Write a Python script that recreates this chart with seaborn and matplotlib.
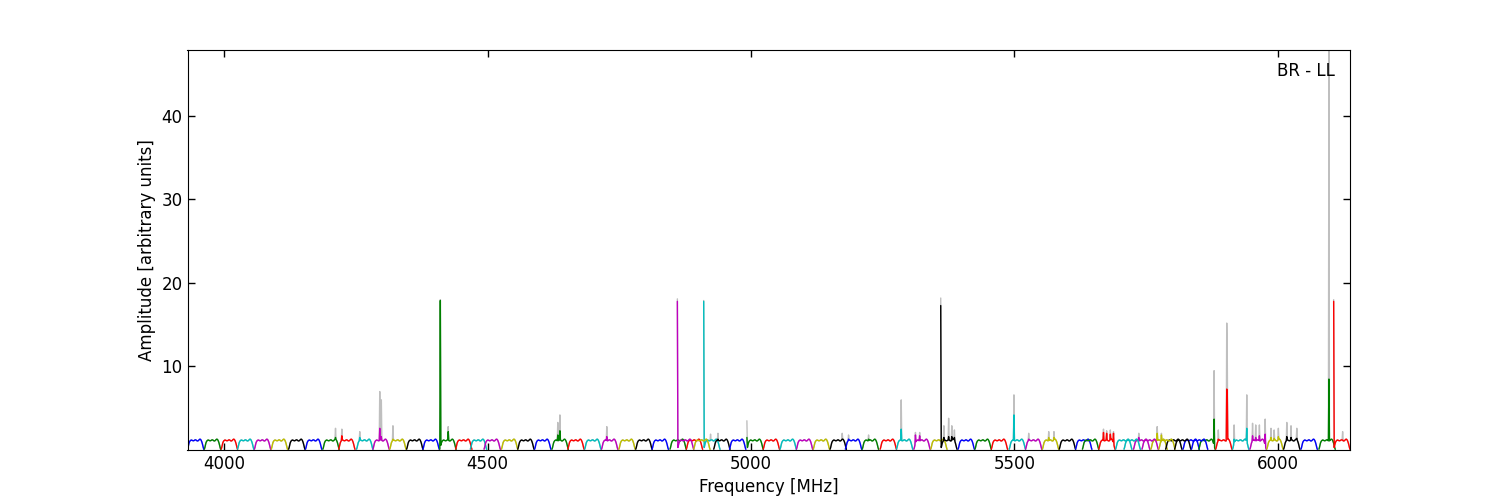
import numpy as np
import pandas as pd
import matplotlib
matplotlib.use('Agg')
import matplotlib.pyplot as plt
import seaborn as sns

# start frequency (MHz) of each spectral window, in plotting order
window_starts = [
    3930, 3962, 3994, 4025, 4057, 4089, 4122, 4154, 4187, 4217,
    4251, 4282, 4314, 4346, 4377, 4409, 4439, 4467, 4493, 4526,
    4557, 4589, 4622, 4652, 4684, 4716, 4749, 4781, 4812, 4846,
    4877, 4910, 4860, 4891, 4929, 4959, 4992, 5023, 5055, 5086,
    5118, 5150, 5179, 5211, 5245, 5276, 5309, 5341, 5360, 5393,
    5425, 5456, 5490, 5521, 5553, 5585, 5616, 5629, 5660, 5692,
    5726, 5759, 5787, 5820, 5850, 5882, 5914, 5947, 5979, 6011,
    6044, 6078, 6106, 5708, 5742, 5774, 5804, 5836,
]

# bandpass shape of one window (32 channels)
bandpass = [
    0.10, 0.30, 0.58, 0.85, 1.00, 1.10, 1.15, 1.20, 1.18, 1.15,
    1.12, 1.10, 1.12, 1.15, 1.20, 1.22, 1.20, 1.15, 1.10, 1.08,
    1.10, 1.15, 1.22, 1.28, 1.30, 1.25, 1.15, 1.00, 0.80, 0.55,
    0.28, 0.08,
]

# spikes: frequency (MHz), raw amplitude (grey), flagged amplitude (colour)
spike_freq = [
    4210.8, 4223.5, 4257.0, 4295.0, 4298.0, 4320.4, 4410.0, 4424.9,
    4633.0, 4636.9, 4725.5, 4860.5, 4910.5, 4923.0, 4937.0, 4992.5,
    5173.0, 5185.0, 5223.0, 5285.2, 5312.0, 5320.0, 5360.5, 5366.0,
    5375.0, 5381.0, 5386.0, 5499.0, 5527.0, 5565.0, 5575.0, 5669.0,
    5675.0, 5682.0, 5688.0, 5736.0, 5771.0, 5779.0, 5879.0, 5886.6,
    5903.0, 5904.0, 5917.0, 5941.0, 5951.9, 5958.0, 5964.5, 5976.0,
    5987.0, 5993.0, 6000.5, 6017.0, 6024.6, 6036.0, 6097.4, 6106.5,
    6123.0,
]
spike_raw = [
    2.6, 2.5, 2.2, 7.0, 6.0, 2.9, 18.0, 2.8,
    3.3, 4.2, 2.8, 18.1, 17.9, 1.9, 2.0, 3.5,
    2.0, 1.8, 1.8, 6.0, 2.1, 2.1, 18.2, 2.9,
    3.8, 2.9, 2.4, 6.6, 2.0, 2.2, 2.2, 2.5,
    2.3, 2.4, 2.2, 2.0, 2.8, 2.0, 9.5, 2.4,
    15.2, 11.1, 3.0, 6.6, 3.2, 3.0, 3.0, 3.7,
    2.6, 2.4, 2.6, 3.3, 2.9, 2.6, 47.9, 18.0,
    2.2,
]
spike_flagged = [
    1.5, 1.7, 1.5, 2.6, 1.6, 1.3, 17.9, 2.2,
    1.8, 2.3, 1.6, 17.8, 17.8, 1.2, 1.3, 1.5,
    1.3, 1.3, 1.3, 2.5, 1.8, 1.7, 17.3, 1.5,
    1.6, 1.6, 1.5, 4.2, 1.3, 1.5, 1.5, 2.1,
    2.0, 1.9, 2.0, 1.5, 2.0, 1.8, 3.7, 1.3,
    7.3, 6.9, 1.3, 2.6, 1.7, 1.5, 1.7, 1.9,
    1.5, 1.4, 1.6, 1.6, 1.5, 1.4, 8.5, 17.8,
    1.2,
]

chan_width = 1.0
starts = np.array(window_starts, dtype=float)
rows = []
for w, s in enumerate(starts):
    freq = s + np.arange(len(bandpass)) * chan_width
    raw = np.array(bandpass, dtype=float)
    flagged = raw.copy()
    for f, r, g in zip(spike_freq, spike_raw, spike_flagged):
        # a spike belongs to the latest window starting below it
        owner = np.argmax(np.where(starts <= f, starts, -np.inf))
        if owner != w:
            continue
        ch = int(round((f - s) / chan_width))
        if 0 <= ch < len(bandpass):
            raw[ch] = r
            flagged[ch] = g
    for fr, r, g in zip(freq, raw, flagged):
        rows.append((w, fr, r, g))
spec = pd.DataFrame(rows, columns=['window', 'freq', 'raw', 'flagged'])

sns.set_style('ticks', {'xtick.direction': 'in', 'ytick.direction': 'in',
                        'axes.edgecolor': 'black', 'text.color': 'black',
                        'axes.labelcolor': 'black',
                        'xtick.color': 'black', 'ytick.color': 'black'})
plt.rcParams['font.family'] = ['DejaVu Sans']
plt.rcParams['xtick.top'] = True
plt.rcParams['ytick.right'] = True

cycle = ['b', 'g', 'r', 'c', 'm', 'y', 'k']
palette = {w: cycle[w % 7] for w in range(len(starts))}

fig, ax = plt.subplots(figsize=(15, 5), dpi=100)
fig.subplots_adjust(left=0.125, right=0.9, bottom=0.1, top=0.9)
sns.lineplot(data=spec, x='freq', y='raw', units='window', estimator=None,
             color='#bfbfbf', lw=1, ax=ax)
sns.lineplot(data=spec, x='freq', y='flagged', hue='window', palette=palette,
             hue_order=list(range(len(starts))), estimator=None, lw=1,
             legend=False, ax=ax)

ax.set_xlim(spec['freq'].min(), spec['freq'].max())
ax.set_ylim(0, spec['raw'].max())
ax.set_xticks([4000, 4500, 5000, 5500, 6000])
ax.set_yticks([10, 20, 30, 40])
ax.tick_params(labelsize=12, length=5, width=1, colors='black')
ax.set_xlabel('Frequency [MHz]', fontsize=12, color='black')
ax.set_ylabel('Amplitude [arbitrary units]', fontsize=12, color='black')
ax.text(0.987, 0.97, 'BR - LL', ha='right', va='top', fontsize=12,
        color='black', transform=ax.transAxes)
fig.savefig('out.png', dpi=100)
